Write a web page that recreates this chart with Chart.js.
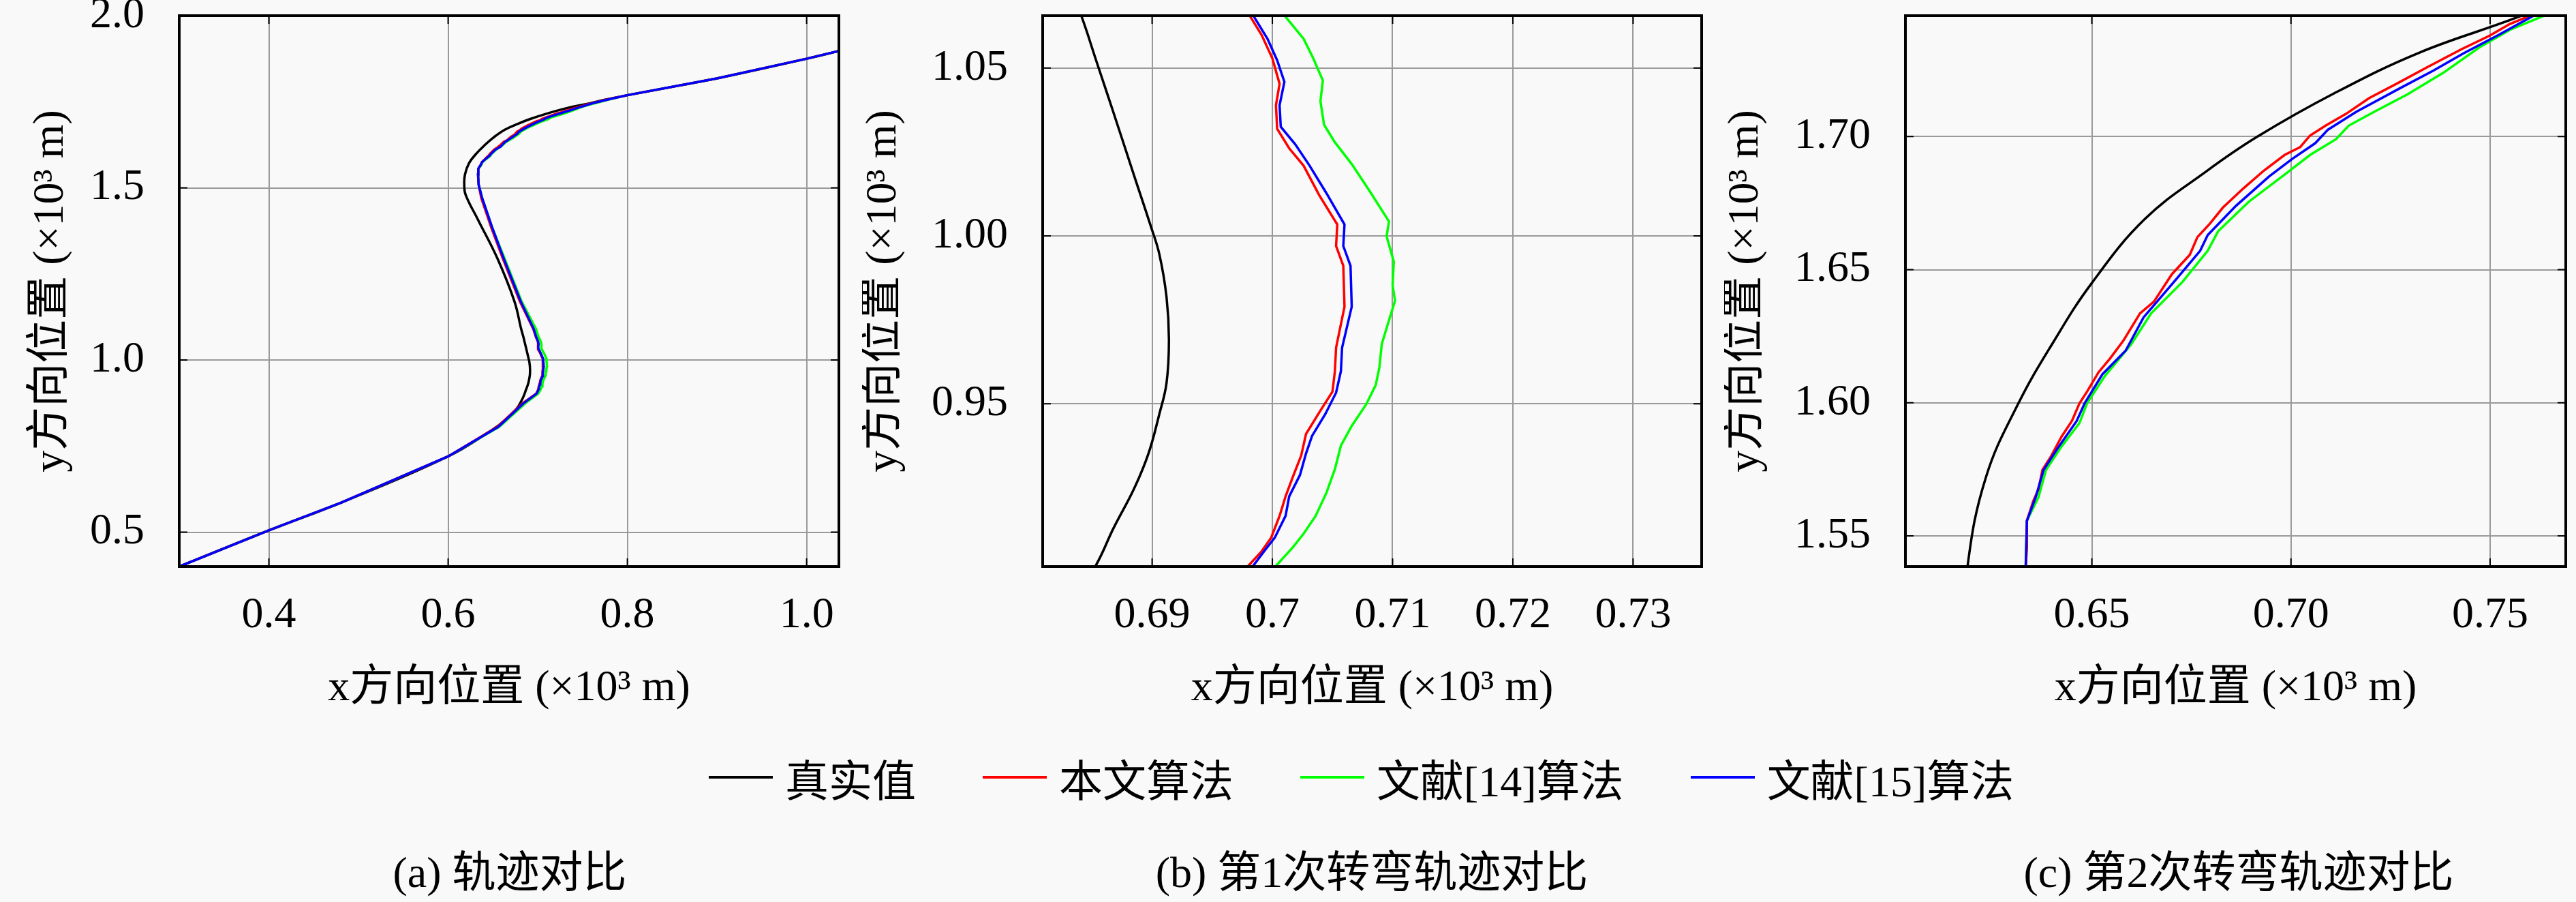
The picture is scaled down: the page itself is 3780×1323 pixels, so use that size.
<!DOCTYPE html>
<html>
<head>
<meta charset="utf-8">
<script src="https://cdn.jsdelivr.net/npm/chart.js@4.4.1/dist/chart.umd.min.js"></script>
<style>
  html, body { margin: 0; padding: 0; background: #f9f9f9; }
  body {
    width: 3780px; height: 1323px; position: relative; overflow: hidden;
    font-family: 'Liberation Serif', 'Noto Sans CJK SC', serif; color: #000;
  }
  canvas { position: absolute; top: 0; }
  #legend {
    position: absolute; top: 1100px; left: 1040px; height: 80px;
    display: flex; align-items: center; font-size: 64px; white-space: nowrap;
  }
  .item { display: flex; align-items: center; margin-right: 98px; }
  .swatch { width: 94px; height: 4px; margin-right: 18px; }
  .caption {
    position: absolute; top: 1240px; line-height: 80px; font-size: 64px;
    transform: translateX(-50%); white-space: nowrap;
  }
</style>
</head>
<body>
<canvas id="chartA" width="1265" height="1050" style="left:0px"></canvas>
<canvas id="chartB" width="1265" height="1050" style="left:1265px"></canvas>
<canvas id="chartC" width="1250" height="1050" style="left:2530px"></canvas>

<div id="legend"></div>
<div class="caption" style="left:748px">(a) 轨迹对比</div>
<div class="caption" style="left:2013px">(b) 第1次转弯轨迹对比</div>
<div class="caption" style="left:3285px">(c) 第2次转弯轨迹对比</div>

<script>
// Series names and colours
const seriesNames = ['真实值', '本文算法', '文献[14]算法', '文献[15]算法'];
const seriesColors = ['#000000', '#ff0000', '#00ff00', '#0000ff'];

// Trajectories (x, y in 10^3 m)
const truthX = [0.300, 0.400, 0.480, 0.600, 0.648, 0.664, 0.676, 0.6815, 0.6853, 0.6868, 0.6885, 0.6897,
  0.6906, 0.6912, 0.6914, 0.6912, 0.6906, 0.6899, 0.6885, 0.6868, 0.6854, 0.6841, 0.6815, 0.674, 0.655,
  0.633, 0.6195, 0.618,
  0.6188, 0.6234, 0.6314, 0.6405, 0.6500, 0.6633, 0.6788, 0.6916, 0.7108, 0.7322, 0.7567,
  0.775, 0.800, 0.900, 1.000, 1.040];
const truthY = [0.400, 0.505, 0.585, 0.720, 0.795, 0.826, 0.857, 0.880, 0.9017, 0.913, 0.9247, 0.9352,
  0.9469, 0.9562, 0.969, 0.9818, 0.9946, 1.0028, 1.018, 1.0366, 1.0517, 1.0657, 1.090, 1.170, 1.295,
  1.409, 1.480, 1.510,
  1.5386, 1.572, 1.5993, 1.6232, 1.645, 1.669, 1.687, 1.700, 1.7162, 1.7315, 1.7447,
  1.756, 1.769, 1.818, 1.875, 1.900];

const oursX = [0.300, 0.400, 0.480, 0.600, 0.655, 0.683, 0.6980, 0.6991, 0.6999, 0.7006, 0.7011, 0.7017,
  0.7024, 0.7028, 0.7040, 0.7050, 0.7052, 0.7053, 0.7060, 0.7059, 0.7053, 0.7054, 0.7039, 0.7026, 0.7014,
  0.7004, 0.7003, 0.7006, 0.7000, 0.6991, 0.6981, 0.695, 0.680, 0.661, 0.648, 0.637, 0.634,
  0.6334, 0.6337, 0.6337, 0.6353, 0.6366, 0.6376, 0.6398, 0.6424, 0.6450, 0.6469, 0.6488, 0.6517, 0.6546,
  0.6579, 0.6621, 0.6656, 0.6701, 0.6746, 0.6765, 0.6797, 0.6829, 0.6881, 0.6932, 0.6984, 0.7023, 0.7048,
  0.7087, 0.7138, 0.7196, 0.7261, 0.7344, 0.7428, 0.7499, 0.7550, 0.7599, 0.778, 0.800, 0.900, 1.000, 1.040];
const oursY = [0.400, 0.505, 0.585, 0.720, 0.806, 0.874, 0.9017, 0.906, 0.9101, 0.9166, 0.9224, 0.9282,
  0.9346, 0.941, 0.948, 0.9536, 0.9597, 0.9667, 0.9789, 0.9911, 0.997, 1.0034, 1.0121, 1.0209, 1.0261,
  1.0319, 1.0389, 1.0453, 1.0529, 1.0599, 1.0657, 1.090, 1.170, 1.295, 1.386, 1.470, 1.510,
  1.5385, 1.5454, 1.5557, 1.5631, 1.5675, 1.5748, 1.580, 1.5873, 1.5932, 1.5998, 1.6042, 1.6115, 1.6167,
  1.6233, 1.6336, 1.638, 1.6483, 1.6556, 1.6622, 1.6674, 1.6733, 1.6806, 1.6872, 1.6931, 1.696, 1.7004,
  1.7041, 1.7085, 1.7144, 1.7195, 1.7262, 1.7328, 1.7379, 1.7423, 1.7453, 1.757, 1.769, 1.818, 1.875, 1.900];

const ref14X = [0.300, 0.400, 0.480, 0.600, 0.657, 0.686, 0.7003, 0.7017, 0.7026, 0.7036, 0.7045, 0.7052,
  0.7057, 0.7066, 0.7078, 0.7086, 0.7089, 0.7091, 0.7096, 0.7102, 0.7100, 0.7101, 0.7095, 0.7097, 0.7081,
  0.7066, 0.7052, 0.7043, 0.7040, 0.7042, 0.7034, 0.7026, 0.7010, 0.698, 0.682, 0.663, 0.649, 0.638, 0.634,
  0.6334, 0.6337, 0.6366, 0.6385, 0.6424, 0.6469, 0.6488, 0.6533, 0.6598, 0.6649, 0.6727, 0.6791, 0.6817,
  0.6894, 0.6984, 0.7048, 0.7113, 0.7145, 0.7209, 0.7293, 0.7383, 0.7473, 0.7550, 0.7634, 0.780, 0.800,
  0.900, 1.000, 1.040];
const ref14Y = [0.400, 0.505, 0.585, 0.720, 0.806, 0.874, 0.9017, 0.9072, 0.9113, 0.9166, 0.9235, 0.9305,
  0.9375, 0.9434, 0.9498, 0.9556, 0.9608, 0.9678, 0.9737, 0.9807, 0.9853, 0.9923, 0.9999, 1.0043, 1.0133,
  1.0214, 1.0279, 1.0331, 1.0401, 1.0463, 1.0529, 1.0587, 1.0657, 1.090, 1.170, 1.295, 1.386, 1.470, 1.510,
  1.5385, 1.5557, 1.5645, 1.5748, 1.5836, 1.5924, 1.5998, 1.6101, 1.6218, 1.6336, 1.6453, 1.6571, 1.6644,
  1.6755, 1.6857, 1.6931, 1.699, 1.7041, 1.7093, 1.7159, 1.724, 1.7335, 1.7401, 1.7453, 1.757, 1.769,
  1.818, 1.875, 1.900];

const ref15X = [0.300, 0.400, 0.480, 0.600, 0.656, 0.684, 0.6984, 0.6993, 0.7002, 0.7011, 0.7014, 0.7023,
  0.7028, 0.7033, 0.7044, 0.7053, 0.7057, 0.7058, 0.7066, 0.7065, 0.7059, 0.7060, 0.7045, 0.7031, 0.7019,
  0.7007, 0.7006, 0.7010, 0.7004, 0.6996, 0.6984, 0.6955, 0.681, 0.662, 0.649, 0.638, 0.634,
  0.6334, 0.6337, 0.6359, 0.6379, 0.6411, 0.6462, 0.6482, 0.6527, 0.6585, 0.6630, 0.6714, 0.6772, 0.6791,
  0.6862, 0.6945, 0.7003, 0.7061, 0.7093, 0.7164, 0.7273, 0.7357, 0.7434, 0.7518, 0.7608, 0.779, 0.800,
  0.900, 1.000, 1.040];
const ref15Y = [0.400, 0.505, 0.585, 0.720, 0.806, 0.874, 0.9017, 0.906, 0.9101, 0.9166, 0.9224, 0.9288,
  0.9352, 0.9404, 0.9469, 0.9533, 0.9597, 0.9667, 0.9789, 0.9911, 0.997, 1.0034, 1.0127, 1.0209, 1.0273,
  1.0325, 1.0389, 1.0459, 1.0523, 1.0587, 1.0657, 1.090, 1.170, 1.295, 1.386, 1.470, 1.510,
  1.5385, 1.5557, 1.5645, 1.5748, 1.5822, 1.5932, 1.5998, 1.6108, 1.6196, 1.6321, 1.6468, 1.6571, 1.663,
  1.674, 1.685, 1.6916, 1.6975, 1.7026, 1.7093, 1.7181, 1.7247, 1.7313, 1.7379, 1.7453, 1.757, 1.769,
  1.818, 1.875, 1.900];

// Axis ranges and ticks for each panel
const rangeXA = [0.3, 1.036], rangeYA = [0.4, 2.0];
const ticksXA = [0.4, 0.6, 0.8, 1.0], labelsXA = ['0.4', '0.6', '0.8', '1.0'];
const ticksYA = [0.5, 1.0, 1.5, 2.0], labelsYA = ['0.5', '1.0', '1.5', '2.0'];

const rangeXB = [0.6809, 0.7357], rangeYB = [0.9015, 1.0656];
const ticksXB = [0.69, 0.70, 0.71, 0.72, 0.73], labelsXB = ['0.69', '0.7', '0.71', '0.72', '0.73'];
const ticksYB = [0.95, 1.00, 1.05], labelsYB = ['0.95', '1.00', '1.05'];

const rangeXC = [0.6032, 0.769], rangeYC = [1.5385, 1.7454];
const ticksXC = [0.65, 0.70, 0.75], labelsXC = ['0.65', '0.70', '0.75'];
const ticksYC = [1.55, 1.60, 1.65, 1.70], labelsYC = ['1.55', '1.60', '1.65', '1.70'];

const xTitle = 'x方向位置 (×10³ m)';
const yTitle = 'y方向位置 (×10³ m)';

Chart.defaults.font.family = "'Liberation Serif', 'Noto Sans CJK SC', serif";
Chart.defaults.color = '#000';

const CANVAS_H = 1050;
const AREA_TOP = 23;
const AREA_BOTTOM = 831;

// Box around the plot area with small inward tick marks on all four sides
const framePlugin = {
    id: 'frame',
    afterDatasetsDraw(chart) {
        const { ctx, chartArea: a, scales } = chart;
        const L = 12;
        ctx.save();
        ctx.strokeStyle = '#000';
        ctx.lineWidth = 2;
        ctx.beginPath();
        scales.x.ticks.forEach(t => {
            const px = scales.x.getPixelForValue(t.value);
            ctx.moveTo(px, a.bottom); ctx.lineTo(px, a.bottom - L);
            ctx.moveTo(px, a.top); ctx.lineTo(px, a.top + L);
        });
        scales.y.ticks.forEach(t => {
            const py = scales.y.getPixelForValue(t.value);
            ctx.moveTo(a.left, py); ctx.lineTo(a.left + L, py);
            ctx.moveTo(a.right, py); ctx.lineTo(a.right - L, py);
        });
        ctx.stroke();
        ctx.lineWidth = 4;
        ctx.strokeRect(a.left, a.top, a.right - a.left, a.bottom - a.top);
        ctx.restore();
    }
};

function toPoints(xs, ys) {
    return xs.map((x, i) => ({ x: x, y: ys[i] }));
}

function buildDatasets() {
    const sets = [
        { name: seriesNames[3], color: seriesColors[3], data: toPoints(ref15X, ref15Y), tension: 0 },
        { name: seriesNames[1], color: seriesColors[1], data: toPoints(oursX, oursY), tension: 0 },
        { name: seriesNames[2], color: seriesColors[2], data: toPoints(ref14X, ref14Y), tension: 0 },
        { name: seriesNames[0], color: seriesColors[0], data: toPoints(truthX, truthY), tension: 0.4 }
    ];
    return sets.map(s => ({
        label: s.name,
        data: s.data,
        borderColor: s.color,
        backgroundColor: s.color,
        borderWidth: 3.5,
        pointRadius: 0,
        showLine: true,
        tension: s.tension,
        clip: 0
    }));
}

function makeChart(id, cfg) {
    const ctx = document.getElementById(id).getContext('2d');
    return new Chart(ctx, {
        type: 'scatter',
        data: { datasets: buildDatasets() },
        options: {
            responsive: false,
            animation: false,
            devicePixelRatio: 1,
            events: [],
            layout: { padding: { left: 0, top: AREA_TOP, right: cfg.rightPad, bottom: 0 } },
            plugins: { legend: { display: false }, tooltip: { enabled: false } },
            scales: {
                x: {
                    type: 'linear',
                    min: cfg.rangeX[0],
                    max: cfg.rangeX[1],
                    afterBuildTicks: s => { s.ticks = cfg.ticksX.map(v => ({ value: v })); },
                    afterFit: s => {
                        s.height = CANVAS_H - AREA_BOTTOM;
                        s.paddingLeft = 0; s.paddingRight = 0;
                    },
                    ticks: {
                        callback: (v, i) => cfg.labelsX[i],
                        font: { size: 64 },
                        padding: 34,
                        maxRotation: 0,
                        autoSkip: false
                    },
                    grid: { color: '#9a9a9a', lineWidth: 2, drawTicks: false },
                    border: { display: false },
                    title: {
                        display: true,
                        text: xTitle,
                        font: { size: 64, lineHeight: 1 },
                        padding: { top: 0, bottom: 8 }
                    }
                },
                y: {
                    type: 'linear',
                    min: cfg.rangeY[0],
                    max: cfg.rangeY[1],
                    afterBuildTicks: s => { s.ticks = cfg.ticksY.map(v => ({ value: v })); },
                    afterFit: s => {
                        s.width = cfg.yWidth;
                        s.paddingTop = 0; s.paddingBottom = 0;
                    },
                    ticks: {
                        callback: (v, i) => cfg.labelsY[i],
                        font: { size: 64 },
                        padding: 51,
                        autoSkip: false
                    },
                    grid: { color: '#9a9a9a', lineWidth: 2, drawTicks: false },
                    border: { display: false },
                    title: {
                        display: true,
                        text: yTitle,
                        font: { size: 64, lineHeight: 1 },
                        padding: { top: cfg.yTitlePad, bottom: 0 }
                    }
                }
            }
        },
        plugins: [framePlugin]
    });
}

function buildLegend() {
    const legend = document.getElementById('legend');
    seriesNames.forEach((name, i) => {
        const item = document.createElement('div');
        item.className = 'item';
        const sw = document.createElement('span');
        sw.className = 'swatch';
        sw.style.background = seriesColors[i];
        const txt = document.createElement('span');
        txt.textContent = name;
        item.appendChild(sw);
        item.appendChild(txt);
        legend.appendChild(item);
    });
}

function initializeFigure() {
    makeChart('chartA', {
        rangeX: rangeXA, rangeY: rangeYA, ticksX: ticksXA, labelsX: labelsXA,
        ticksY: ticksYA, labelsY: labelsYA, yWidth: 263, rightPad: 34, yTitlePad: 43
    });
    makeChart('chartB', {
        rangeX: rangeXB, rangeY: rangeYB, ticksX: ticksXB, labelsX: labelsXB,
        ticksY: ticksYB, labelsY: labelsYB, yWidth: 265, rightPad: 33, yTitlePad: 0
    });
    makeChart('chartC', {
        rangeX: rangeXC, rangeY: rangeYC, ticksX: ticksXC, labelsX: labelsXC,
        ticksY: ticksYC, labelsY: labelsYC, yWidth: 266, rightPad: 15, yTitlePad: 0
    });
    buildLegend();
}

document.addEventListener('DOMContentLoaded', initializeFigure);
</script>
</body>
</html>
